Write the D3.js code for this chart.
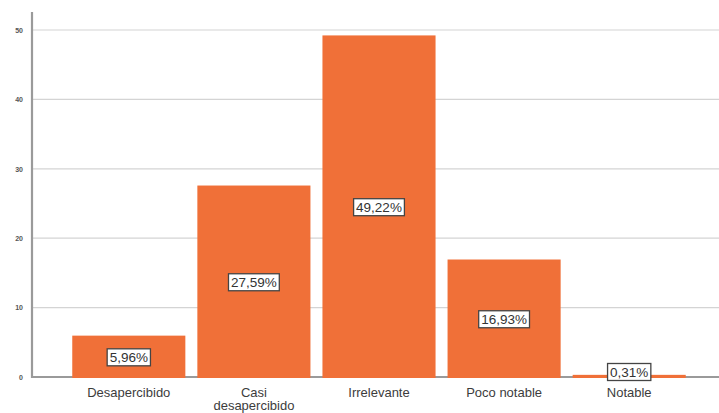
<!DOCTYPE html>
<html><head><meta charset="utf-8">
<script src="https://cdn.jsdelivr.net/npm/d3@7"></script>
<style>body{margin:0;background:#fff}svg{display:block}</style>
</head><body><svg id="c" width="719" height="413"></svg>
<script>
const categories = ["Desapercibido", "Casi desapercibido", "Irrelevante", "Poco notable", "Notable"];
const values = [5.96, 27.59, 49.22, 16.93, 0.31];
const labels = ["5,96%", "27,59%", "49,22%", "16,93%", "0,31%"];
const yTicks = [0, 10, 20, 30, 40, 50];

const svg = d3.select("#c");
const x0 = 32, yBase = 377;
const FONT = "Liberation Sans, Arial, sans-serif";
const x = d3.scaleBand().domain(categories).range([66, 692]).paddingInner(0.096).paddingOuter(0.05);
const y = d3.scaleLinear().domain([0, 50]).range([yBase, 30]);

// gridlines
svg.append("g").selectAll("line").data(yTicks.filter(d => d > 0)).join("line")
  .attr("x1", x0).attr("x2", 719).attr("y1", d => y(d)).attr("y2", d => y(d))
  .attr("stroke", "#d4d4d4").attr("stroke-width", 1.2);

// y axis
const ya = svg.append("g").attr("transform", `translate(${x0},0)`)
  .call(d3.axisLeft(y).tickValues(yTicks).tickSize(0).tickPadding(9).tickFormat(d3.format("d")));
ya.select(".domain").remove();
ya.selectAll("text").attr("font-family", FONT).attr("font-size", 7).attr("font-weight", "bold").attr("fill", "#555");

// axis lines
svg.append("line").attr("x1", x0).attr("x2", x0).attr("y1", 12).attr("y2", yBase + 1)
  .attr("stroke", "#9a9a9a").attr("stroke-width", 2.2);
svg.append("line").attr("x1", x0).attr("x2", 719).attr("y1", yBase).attr("y2", yBase)
  .attr("stroke", "#9a9a9a").attr("stroke-width", 2.2);

// bars (drawn over the baseline)
svg.append("g").selectAll("rect").data(values).join("rect")
  .attr("x", (d, i) => x(categories[i])).attr("width", x.bandwidth())
  .attr("y", d => y(d)).attr("height", d => yBase + 1 - y(d))
  .attr("fill", "#f07038");

// category labels
const cg = svg.append("g");
categories.forEach((c, i) => {
  const cx = x(c) + x.bandwidth() / 2;
  const t = cg.append("text").attr("x", cx).attr("y", 396.5).attr("text-anchor", "middle")
    .attr("font-family", FONT).attr("font-size", 13).attr("fill", "#3c3c3c");
  if (c === "Casi desapercibido") {
    t.append("tspan").attr("x", cx).text("Casi");
    t.append("tspan").attr("x", cx).attr("dy", 13.5).text("desapercibido");
  } else t.text(c);
});

// value labels
const lg = svg.append("g");
values.forEach((v, i) => {
  const cx = x(categories[i]) + x.bandwidth() / 2;
  let cy = (y(v) + yBase) / 2 + 1;
  if (v < 2) cy = yBase - 5;
  const g = lg.append("g");
  const r = g.append("rect").attr("fill", "#fff").attr("stroke", "#444").attr("stroke-width", 1.3);
  const t = g.append("text").attr("x", cx).attr("y", cy + 5).attr("text-anchor", "middle")
    .attr("font-family", FONT).attr("font-size", 13.5).attr("fill", "#333").text(labels[i]);
  const w = t.node().getComputedTextLength() + 5, h = 17;
  r.attr("x", cx - w / 2).attr("y", cy - h / 2).attr("width", w).attr("height", h);
});
</script></body></html>
